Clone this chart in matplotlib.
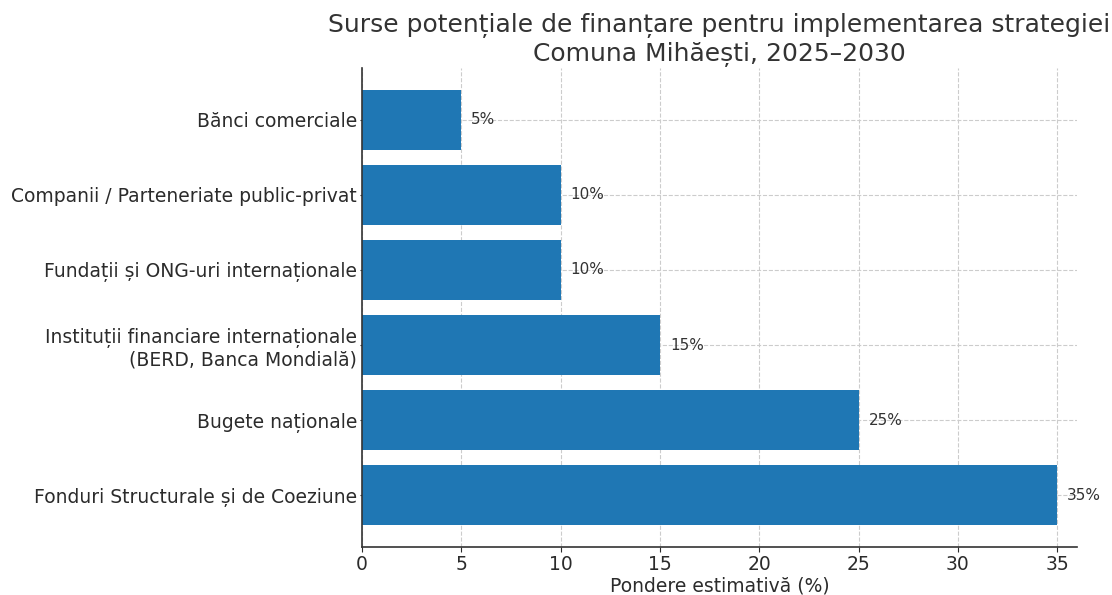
import matplotlib
matplotlib.use("Agg")
import matplotlib.pyplot as plt

categories = [
    "Fonduri Structurale și de Coeziune",
    "Bugete naționale",
    "Instituții financiare internaționale\n(BERD, Banca Mondială)",
    "Fundații și ONG-uri internaționale",
    "Companii / Parteneriate public-privat",
    "Bănci comerciale",
]
values = [35, 25, 15, 10, 10, 5]
xticks = [0, 5, 10, 15, 20, 25, 30, 35]

plt.rcParams['font.family'] = ['DejaVu Sans']
plt.rcParams['text.color'] = '#2b2b2b'
plt.rcParams['axes.labelcolor'] = '#2b2b2b'
plt.rcParams['xtick.color'] = '#2b2b2b'
plt.rcParams['ytick.color'] = '#2b2b2b'

fig = plt.figure(figsize=(11.12, 5.95), dpi=100)
ax = fig.add_axes([362/1112, 1-547/595, (1077-362)/1112, (547-68)/595])

bars = ax.barh(range(len(categories)), values, height=0.8, color='#1f77b4', zorder=2)
ax.set_yticks(range(len(categories)))
ax.set_yticklabels(categories, fontsize=13.5)
ax.set_xticks(xticks)
ax.set_xticklabels([str(t) for t in xticks], fontsize=13.5)
ax.tick_params(axis='x', pad=2)
ax.tick_params(axis='y', pad=2, length=1.5)
ax.set_xlim(0, 36)
ax.set_xlabel("Pondere estimativă (%)", fontsize=13.5, labelpad=2)
ax.set_title("Surse potențiale de finanțare pentru implementarea strategiei\nComuna Mihăești, 2025–2030", fontsize=18, color='#333333', pad=5)

for i, v in enumerate(values):
    ax.text(v + 0.5, i, f"{v}%", va='center', ha='left', fontsize=11, color='#333333')

ax.grid(True, linestyle='--', color='#cccccc', linewidth=0.8, zorder=0)
ax.set_axisbelow(True)
for s in ['top', 'right']:
    ax.spines[s].set_visible(False)
for s in ['left', 'bottom']:
    ax.spines[s].set_color('#333333')
    ax.spines[s].set_linewidth(1.2)

fig.savefig("out.png", dpi=100)
